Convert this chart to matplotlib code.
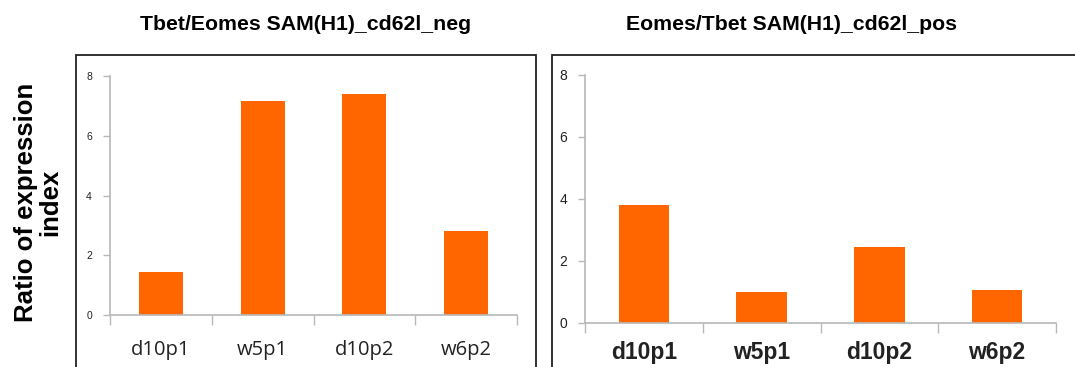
import matplotlib.pyplot as plt
from matplotlib.patches import Rectangle
import numpy as np

# data
samples = ["d10p1", "w5p1", "d10p2", "w6p2"]
neg_ratio = [1.43, 7.17, 7.4, 2.8]
pos_ratio = [3.8, 1.0, 2.45, 1.06]
yticks = [0, 2, 4, 6, 8]

left_title = "Tbet/Eomes SAM(H1)_cd62l_neg"
right_title = "Eomes/Tbet SAM(H1)_cd62l_pos"
ylabel = "Ratio of expression\nindex"

W, H = 1075, 367
orange = "#ff6600"
axis_grey = "#b8b8b8"

fig = plt.figure(figsize=(W / 100, H / 100), dpi=100)


def fx(px):
    return px / W


def fy(py):
    return 1 - py / H


# outer frames around each chart (they run off the bottom / right edge)
fig.patches.append(Rectangle((fx(76), fy(420)), fx(536 - 76), fy(55) - fy(420),
                             transform=fig.transFigure, fill=False,
                             edgecolor="#222222", linewidth=1.3))
fig.patches.append(Rectangle((fx(552), fy(420)), fx(1120 - 552), fy(55) - fy(420),
                             transform=fig.transFigure, fill=False,
                             edgecolor="#222222", linewidth=1.3))

ax1 = fig.add_axes([fx(110), fy(315), fx(517 - 110), fy(76) - fy(315)])
ax2 = fig.add_axes([fx(585), fy(323), fx(1056 - 585), fy(75) - fy(323)])


def style(ax, values, ytick_size, xlab_font, xlab_size, xlab_weight, xpad):
    x = np.arange(len(samples))
    ax.bar(x, values, width=0.43, color=orange, edgecolor="none")
    ax.set_xlim(-0.5, len(samples) - 0.5)
    ax.set_ylim(0, 8)
    ax.set_yticks(yticks)
    ax.set_yticklabels([str(t) for t in yticks], fontsize=ytick_size,
                       family="Liberation Sans", color="#222222")
    ax.set_xticks(np.arange(len(samples) + 1) - 0.5)
    ax.set_xticklabels([])
    ax.set_xticks(x, minor=True)
    ax.set_xticklabels(samples, minor=True, fontsize=xlab_size,
                       family=xlab_font, fontweight=xlab_weight, color="#222222")
    ax.tick_params(axis="x", which="minor", length=0, pad=xpad)
    ax.tick_params(axis="x", which="major", length=7, color=axis_grey, width=1)
    ax.tick_params(axis="y", length=5, color=axis_grey, width=1, pad=8)
    for s in ["top", "right"]:
        ax.spines[s].set_visible(False)
    for s in ["left", "bottom"]:
        ax.spines[s].set_color(axis_grey)
        ax.spines[s].set_linewidth(1.2)
    ax.patch.set_visible(False)


style(ax1, neg_ratio, 7.5, "Open Sans", 14.5, "normal", 18)
style(ax2, pos_ratio, 10, "Liberation Sans", 16.5, "bold", 13)

fig.text(fx(306), fy(25), left_title, ha="center", va="center",
         fontsize=15.3, fontweight="bold", family="Liberation Sans")
fig.text(fx(791), fy(25), right_title, ha="center", va="center",
         fontsize=15.3, fontweight="bold", family="Liberation Sans")
fig.text(fx(38), fy(202), ylabel, ha="center", va="center", rotation=90,
         fontsize=18.5, fontweight="bold", family="Liberation Sans",
         linespacing=1.05, multialignment="center")

fig.savefig("out.png", dpi=100)
